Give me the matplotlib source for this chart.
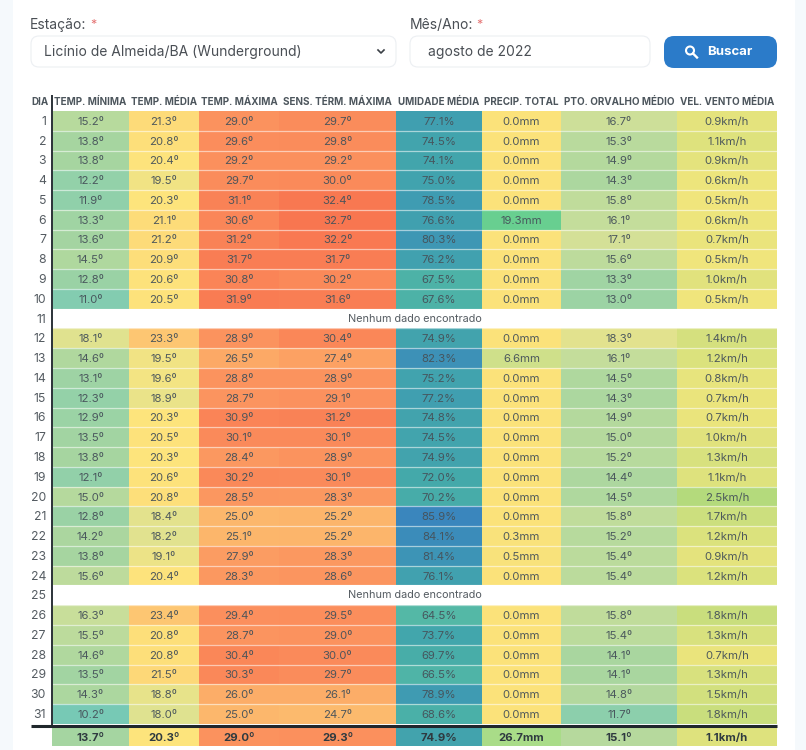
#!/usr/bin/env python3
"""Daily weather table for one station, drawn as a per-column heatmap."""

import matplotlib

matplotlib.use("Agg")
import matplotlib.pyplot as plt
import numpy as np
from matplotlib.colors import LinearSegmentedColormap, Normalize
from matplotlib.patches import Circle, FancyBboxPatch

nan = float("nan")

days = list(range(1, 32))
headers = ["TEMP. MÍNIMA", "TEMP. MÉDIA", "TEMP. MÁXIMA", "SENS. TÉRM. MÁXIMA",
           "UMIDADE MÉDIA", "PRECIP. TOTAL", "PTO. ORVALHO MÉDIO", "VEL. VENTO MÉDIA"]

temp_min = [15.2, 13.8, 13.8, 12.2, 11.9, 13.3, 13.6, 14.5, 12.8, 11.0, nan, 18.1, 14.6, 13.1, 12.3, 12.9,
            13.5, 13.8, 12.1, 15.0, 12.8, 14.2, 13.8, 15.6, nan, 16.3, 15.5, 14.6, 13.5, 14.3, 10.2]
temp_avg = [21.3, 20.8, 20.4, 19.5, 20.3, 21.1, 21.2, 20.9, 20.6, 20.5, nan, 23.3, 19.5, 19.6, 18.9, 20.3,
            20.5, 20.3, 20.6, 20.8, 18.4, 18.2, 19.1, 20.4, nan, 23.4, 20.8, 20.8, 21.5, 18.8, 18.0]
temp_max = [29.0, 29.6, 29.2, 29.7, 31.1, 30.6, 31.2, 31.7, 30.8, 31.9, nan, 28.9, 26.5, 28.8, 28.7, 30.9,
            30.1, 28.4, 30.2, 28.5, 25.0, 25.1, 27.9, 28.3, nan, 29.4, 28.7, 30.4, 30.3, 26.0, 25.0]
sens_max = [29.7, 29.8, 29.2, 30.0, 32.4, 32.7, 32.2, 31.7, 30.2, 31.6, nan, 30.4, 27.4, 28.9, 29.1, 31.2,
            30.1, 28.9, 30.1, 28.3, 25.2, 25.2, 28.3, 28.6, nan, 29.5, 29.0, 30.0, 29.7, 26.1, 24.7]
humidity = [77.1, 74.5, 74.1, 75.0, 78.5, 76.6, 80.3, 76.2, 67.5, 67.6, nan, 74.9, 82.3, 75.2, 77.2, 74.8,
            74.5, 74.9, 72.0, 70.2, 85.9, 84.1, 81.4, 76.1, nan, 64.5, 73.7, 69.7, 66.5, 78.9, 68.6]
precip = [0.0, 0.0, 0.0, 0.0, 0.0, 19.3, 0.0, 0.0, 0.0, 0.0, nan, 0.0, 6.6, 0.0, 0.0, 0.0,
          0.0, 0.0, 0.0, 0.0, 0.0, 0.3, 0.5, 0.0, nan, 0.0, 0.0, 0.0, 0.0, 0.0, 0.0]
dew_point = [16.7, 15.3, 14.9, 14.3, 15.8, 16.1, 17.1, 15.6, 13.3, 13.0, nan, 18.3, 16.1, 14.5, 14.3, 14.9,
             15.0, 15.2, 14.4, 14.5, 15.8, 15.2, 15.4, 15.4, nan, 15.8, 15.4, 14.1, 14.1, 14.8, 11.7]
wind = [0.9, 1.1, 0.9, 0.6, 0.5, 0.6, 0.7, 0.5, 1.0, 0.5, nan, 1.4, 1.2, 0.8, 0.7, 0.7,
        1.0, 1.3, 1.1, 2.5, 1.7, 1.2, 0.9, 1.2, nan, 1.8, 1.3, 0.7, 1.3, 1.5, 1.8]
summary = [13.7, 20.3, 29.0, 29.3, 74.9, 26.7, 15.1, 1.1]

no_data = "Nenhum dado encontrado"

# layout, in reference pixels
W, H = 806, 750
COL_EDGES = [52, 129, 199, 279, 396, 482, 561, 677, 777]
ROW_TOP, ROW_H = 111, 19.77
SUM_TOP, SUM_BOTTOM = 31.2, 32.1

# temperature colours at these degrees
temp_stops = [10, 11.9, 13.8, 15.5, 17, 18.8, 20.3, 23.4, 26, 29, 33]
temp_colors = ["#74c8b6", "#90d0aa", "#a6d5a0", "#bcdb9c", "#d2e098", "#e8e38a",
               "#fde47c", "#fdc672", "#fcae68", "#fb925e", "#f8744f"]
temp_norm = Normalize(temp_stops[0], temp_stops[-1])
temp_cmap = LinearSegmentedColormap.from_list(
    "temp", [(float(temp_norm(s)), c) for s, c in zip(temp_stops, temp_colors)])
hum_cmap = LinearSegmentedColormap.from_list("hum", ["#55b9a6", "#44aaa9", "#3f9cb2", "#3a86bd"])
hum_norm = Normalize(64, 86)
rain_cmap = LinearSegmentedColormap.from_list("rain", [
    (0.0, "#fbe27a"), (0.34, "#cfe08a"), (0.62, "#a9dc88"), (1.0, "#68cf90")])
rain_norm = Normalize(0, 19.3)
wind_cmap = LinearSegmentedColormap.from_list("wind", ["#f0e57c", "#d2e07e", "#b4da7c"])
wind_norm = Normalize(0.5, 2.5)

columns = [
    (temp_min, temp_cmap, temp_norm, "{:.1f}º"),
    (temp_avg, temp_cmap, temp_norm, "{:.1f}º"),
    (temp_max, temp_cmap, temp_norm, "{:.1f}º"),
    (sens_max, temp_cmap, temp_norm, "{:.1f}º"),
    (humidity, hum_cmap, hum_norm, "{:.1f}%"),
    (precip, rain_cmap, rain_norm, "{:.1f}mm"),
    (dew_point, temp_cmap, temp_norm, "{:.1f}º"),
    (wind, wind_cmap, wind_norm, "{:.1f}km/h"),
]
# the total rain sits on a wider scale than the daily rain
summary_norms = [temp_norm, temp_norm, temp_norm, temp_norm, hum_norm, Normalize(0, 43), temp_norm, wind_norm]

plt.rcParams["font.family"] = ["Inter", "DejaVu Sans"]
TEXT = "#46525a"

fig = plt.figure(figsize=(W / 100, H / 100), dpi=100, facecolor="#f5f9fc")

# page furniture, y runs down in pixels like the screenshot
page = fig.add_axes([0, 0, 1, 1])
page.set_xlim(0, W)
page.set_ylim(H, 0)
page.axis("off")
page.add_patch(FancyBboxPatch((13, -30), 782, 830, boxstyle="round,pad=0,rounding_size=14",
                              fc="white", ec="none"))
page.add_patch(FancyBboxPatch((31, 36), 365, 31, boxstyle="round,pad=0,rounding_size=8",
                              fc="white", ec="#eceff2", lw=0.8))
page.add_patch(FancyBboxPatch((410, 36), 240, 31, boxstyle="round,pad=0,rounding_size=8",
                              fc="white", ec="#eceff2", lw=0.8))
page.add_patch(FancyBboxPatch((664, 36), 113, 32, boxstyle="round,pad=0,rounding_size=10",
                              fc="#2b7bc9", ec="none"))
page.text(30, 25, "Estação:", fontsize=10, color="#4a4f55", va="center")
page.text(90, 25, "*", fontsize=9, color="#e57373", va="center")
page.text(410, 25, "Mês/Ano:", fontsize=10, color="#4a4f55", va="center")
page.text(476, 25, "*", fontsize=9, color="#e57373", va="center")
page.text(44, 52, "Licínio de Almeida/BA (Wunderground)", fontsize=10, color="#4a4f55", va="center")
page.text(428, 52, "agosto de 2022", fontsize=10, color="#4a4f55", va="center")
page.text(707, 52, "Buscar", fontsize=9.5, color="white", weight="bold", va="center")
page.plot([378, 381, 384], [50, 53, 50], color="#3a4046", lw=1.2)
page.add_patch(Circle((690, 50.5), 4, fc="none", ec="white", lw=1.5))
page.plot([693, 697], [53.5, 57.5], color="white", lw=1.7)

# table, x in pixels and y in row numbers
y_top = ROW_TOP
y_bottom = ROW_TOP + SUM_BOTTOM * ROW_H
ax = fig.add_axes([0, 1 - y_bottom / H, 1, (y_bottom - y_top) / H])
ax.set_xlim(0, W)
ax.set_ylim(SUM_BOTTOM, 0)
ax.axis("off")
ax.patch.set_alpha(0)

y_edges = np.arange(len(days) + 1)
for j, (values, cmap, norm, fmt) in enumerate(columns):
    x0, x1 = COL_EDGES[j], COL_EDGES[j + 1]
    arr = np.ma.masked_invalid(np.array(values, dtype=float).reshape(-1, 1))
    ax.pcolormesh([x0, x1], y_edges, arr, cmap=cmap, norm=norm, linewidth=0, antialiased=False)
    ax.pcolormesh([x0, x1], [SUM_TOP, SUM_BOTTOM], [[summary[j]]], cmap=cmap, norm=summary_norms[j],
                  linewidth=0, antialiased=False)
    xc = (x0 + x1) / 2
    for i, v in enumerate(values):
        if not np.isnan(v):
            ax.text(xc, i + 0.55, fmt.format(v), ha="center", va="center", fontsize=8.2,
                    color=TEXT, alpha=0.95)
    ax.text(xc, (SUM_TOP + SUM_BOTTOM) / 2 + 0.04, fmt.format(summary[j]), ha="center", va="center",
            fontsize=8.2, weight="bold", color="#2f3a40")
    ax.text(xc, -0.45, headers[j], ha="center", va="center", fontsize=7.1, weight="bold",
            color="#4d565d", clip_on=False)

# faint white rules between the rows
for i in range(1, len(days)):
    ax.plot([COL_EDGES[0], COL_EDGES[-1]], [i, i], color="white", lw=0.9, alpha=0.55)

for i, d in enumerate(days):
    ax.text(46, i + 0.55, str(d), ha="right", va="center", fontsize=8.8, color="#555c62")
    if np.isnan(temp_min[i]):
        ax.text((COL_EDGES[0] + COL_EDGES[-1]) / 2, i + 0.5, no_data, ha="center", va="center",
                fontsize=7.8, color="#555c62")
ax.text(40.5, -0.45, "DIA", ha="center", va="center", fontsize=7.1, weight="bold", color="#4d565d",
        clip_on=False)

ax.plot([52, 52], [-0.8, 31.1], color="#2b3238", lw=1.4, clip_on=False, solid_capstyle="butt")
ax.plot([31, 777], [31.1, 31.1], color="#20272c", lw=2.2, solid_capstyle="butt")

fig.savefig("out.png", dpi=100, facecolor=fig.get_facecolor())
